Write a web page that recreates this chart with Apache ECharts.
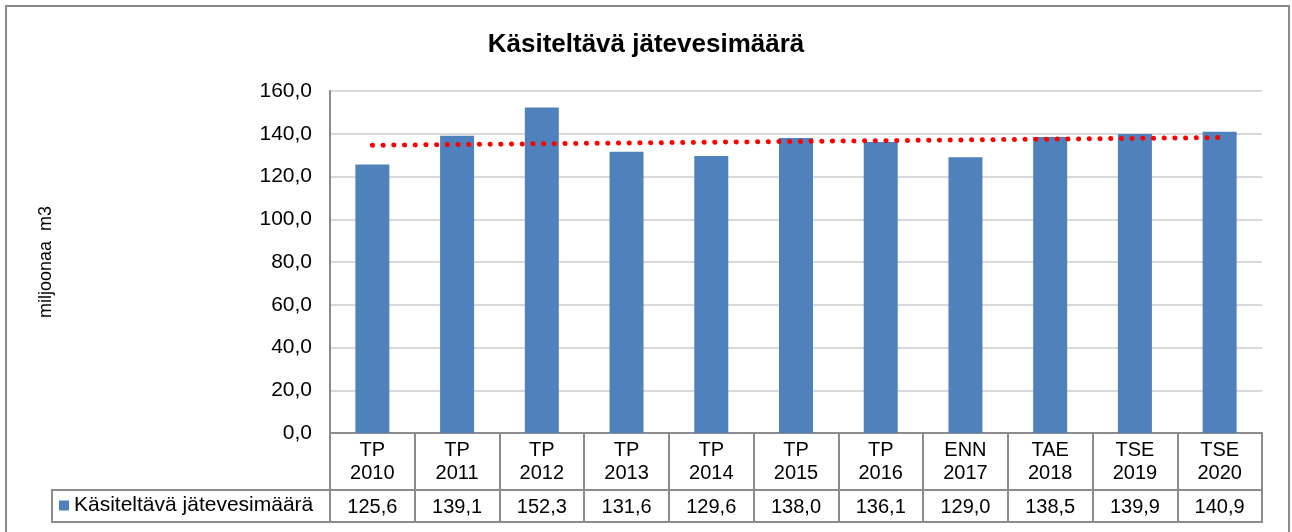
<!DOCTYPE html>
<html>
<head>
<meta charset="utf-8">
<title>Käsiteltävä jätevesimäärä</title>
<script src="https://cdn.jsdelivr.net/npm/echarts@6/dist/echarts.min.js"></script>
<style>
    html, body { margin: 0; padding: 0; background: #fff; }
    #chart { width: 1292px; height: 532px; }
</style>
</head>
<body>
<div id="chart"></div>
<script>
// data
var categories = ['TP 2010', 'TP 2011', 'TP 2012', 'TP 2013', 'TP 2014', 'TP 2015',
                  'TP 2016', 'ENN 2017', 'TAE 2018', 'TSE 2019', 'TSE 2020'];
var values = [125.6, 139.1, 152.3, 131.6, 129.6, 138.0, 136.1, 129.0, 138.5, 139.9, 140.9];
var trendEnds = [134.6, 138.2]; // lineaarinen trendi, alku ja loppu
var seriesName = 'Käsiteltävä jätevesimäärä';
var yTicks = [0, 20, 40, 60, 80, 100, 120, 140, 160];

function fi(v) {
    return v.toFixed(1).replace('.', ',');
}

var trendData = categories.map(function (c, i) {
    if (i === 0) return trendEnds[0];
    if (i === categories.length - 1) return trendEnds[1];
    return null;
});

var font = 'Liberation Sans, Arial, sans-serif';
var gray = '#8c8c8c';

var myChart = echarts.init(document.getElementById('chart'));
var option = {
    animation: false,
    backgroundColor: '#fff',
    title: {
        text: 'Käsiteltävä jätevesimäärä',
        left: 'center',
        top: 27,
        textStyle: { fontFamily: font, fontSize: 26, fontWeight: 'bold', color: '#000' }
    },
    legend: {
        data: [seriesName],
        left: 59,
        top: 495,
        padding: 0,
        icon: 'rect',
        itemWidth: 10,
        itemHeight: 10,
        itemGap: 4,
        selectedMode: false,
        textStyle: { fontFamily: font, fontSize: 21, color: '#000', padding: [0, 0, 0, 0] }
    },
    grid: {
        left: 330,
        right: 30,
        top: 91,
        bottom: 99
    },
    xAxis: [{
        type: 'category',
        data: categories,
        axisLine: { show: true, lineStyle: { color: gray, width: 2 } },
        axisTick: { show: true, length: 57, lineStyle: { color: gray, width: 2 } },
        axisLabel: {
            margin: 6,
            fontFamily: font,
            fontSize: 20,
            lineHeight: 23,
            color: '#000',
            formatter: function (v) { return v.replace(' ', '\n'); }
        }
    }, {
        type: 'category',
        position: 'bottom',
        offset: 57,
        data: categories,
        axisLine: { show: true, lineStyle: { color: gray, width: 2 } },
        axisTick: { show: true, length: 32, lineStyle: { color: gray, width: 2 } },
        axisLabel: {
            margin: 7,
            fontFamily: font,
            fontSize: 20,
            color: '#000',
            formatter: function (v, i) { return fi(values[i]); }
        }
    }],
    yAxis: {
        type: 'value',
        min: yTicks[0],
        max: yTicks[yTicks.length - 1],
        interval: 20,
        name: 'miljoonaa  m3',
        nameLocation: 'middle',
        nameGap: 275,
        nameTextStyle: { fontFamily: font, fontSize: 18, color: '#000' },
        axisLine: { show: true, lineStyle: { color: gray, width: 2 } },
        axisTick: { show: false },
        axisLabel: {
            margin: 18,
            fontFamily: font,
            fontSize: 21,
            color: '#000',
            formatter: function (v) { return fi(v); }
        },
        splitLine: { lineStyle: { color: '#d9d9d9', width: 2 } }
    },
    series: [{
        name: seriesName,
        type: 'bar',
        data: values,
        barWidth: 34,
        itemStyle: { color: '#4f81bd' }
    }, {
        name: 'trendi',
        type: 'line',
        data: trendData,
        connectNulls: true,
        symbol: 'none',
        silent: true,
        z: 5,
        lineStyle: { color: '#ff0000', width: 5, type: [0.1, 10.6], cap: 'round' }
    }],
    graphic: [{
        type: 'rect',
        shape: { x: 52, y: 490, width: 1210, height: 32 },
        style: { fill: 'none', stroke: gray, lineWidth: 2 },
        z: 100
    }, {
        type: 'rect',
        shape: { x: 6, y: 6, width: 1283, height: 540 },
        style: { fill: 'none', stroke: '#8a8a8a', lineWidth: 2 },
        z: 100
    }]
};
myChart.setOption(option);
</script>
</body>
</html>
